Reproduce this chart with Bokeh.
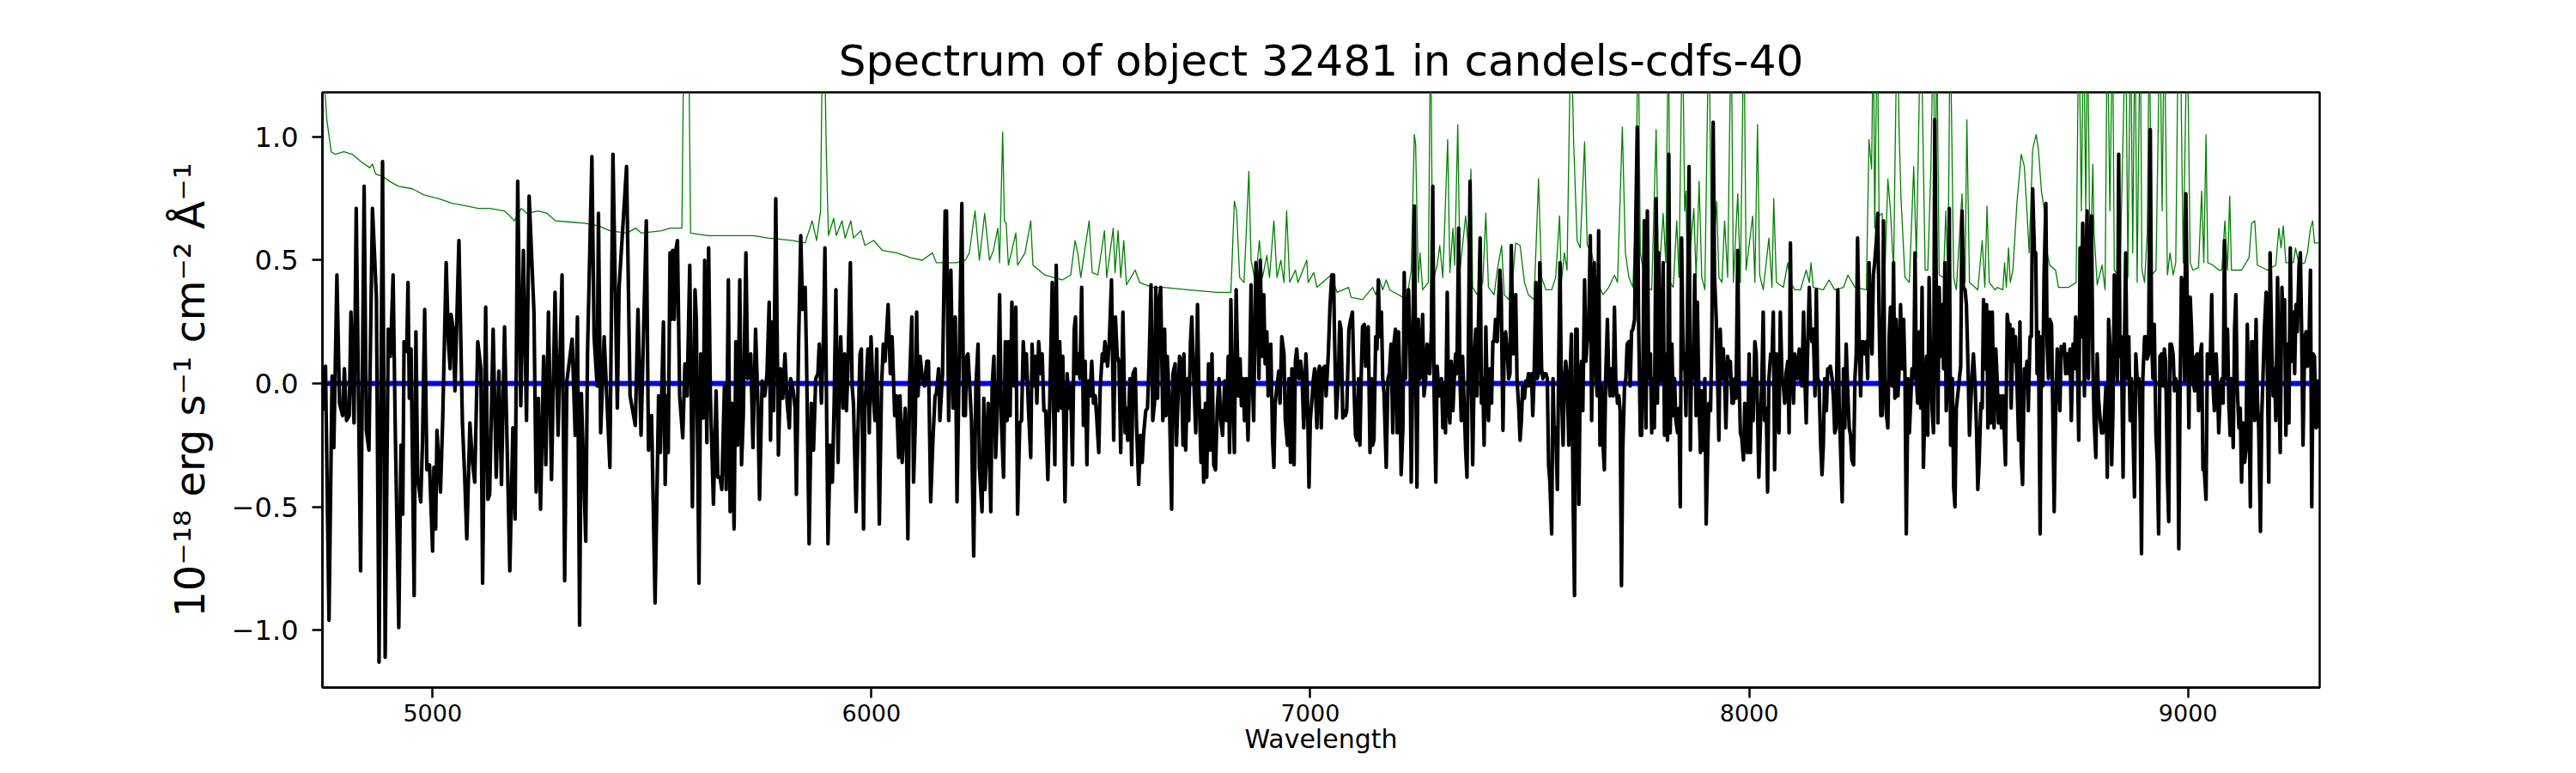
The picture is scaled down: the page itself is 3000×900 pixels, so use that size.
from bokeh.plotting import figure
from bokeh.models import Range1d, FixedTicker
from bokeh.embed import file_html
from bokeh.resources import INLINE

# ---------------- data ----------------
title_text = "Spectrum of object 32481 in candels-cdfs-40"
x_label = "Wavelength"
y_label = "10\u207b\u00b9\u2078 erg s\u207b\u00b9 cm\u207b\u00b2 \u00c5\u207b\u00b9"

x_ticks = [5000, 6000, 7000, 8000, 9000]
x_tick_labels = ["5000", "6000", "7000", "8000", "9000"]
y_ticks = [-1.0, -0.5, 0.0, 0.5, 1.0]
y_tick_labels = ["\u22121.0", "\u22120.5", "0.0", "0.5", "1.0"]

x_limits = [4749, 9300]
y_limits = [-1.233, 1.181]

# observed flux (black), in six wavelength chunks
wave_a = [4749,4756,4764,4771,4775,4782,4788,4795,4799,4804,
          4810,4814,4821,4826,4836,4844,4849,4855,4863,4872,
          4878,4886,4892,4899,4904,4910,4915,4923,4928,4932,
          4935,4941,4944,4947,4951,4958,4962,4966,4973,4977,
          4982,4987,4993,5000,5003,5007,5010,5018,5023,5031,
          5036,5040,5042,5047,5051,5060,5068,5073,5078,5085,
          5091,5096,5103,5110,5114,5121,5126,5130,5138,5145,
          5151,5157,5164,5176,5183,5188,5194,5201,5207,5214,
          5220,5231,5236,5241,5246,5253,5258,5264,5271,5279,
          5286,5295,5301,5306,5318,5325,5330,5335,5339,5349,
          5353,5363,5368,5375,5378,5383,5391,5404,5411,5421,
          5425,5442,5450,5462,5468,5475,5487,5492,5499,5507,
          5515]
flux_a = [-0.11,0.07,-0.96,0.03,-0.26,0.44,-0.08,-0.13,0.06,-0.15,
          -0.13,0.29,-0.16,0.71,-0.76,0.80,-0.19,-0.27,0.71,0.35,
          -1.13,0.90,-1.11,0.22,0.11,0.44,-0.19,-0.99,-0.25,-0.53,
          0.17,0.13,0.41,-0.06,0.14,-0.86,0.21,-0.38,-0.48,-0.24,
          0.30,-0.35,-0.33,-0.68,-0.34,-0.59,-0.19,-0.44,-0.15,0.49,
          0.17,0.06,0.28,0.22,-0.03,0.58,-0.16,-0.37,-0.63,-0.16,
          -0.32,-0.40,0.17,0.06,-0.81,0.31,-0.47,-0.45,0.22,-0.38,
          0.05,-0.41,0.23,-0.76,-0.18,-0.55,0.82,-0.09,0.54,-0.15,
          0.76,0.29,-0.44,-0.06,-0.51,0.11,-0.33,0.29,-0.39,0.37,
          -0.21,0.44,-0.80,0.01,0.18,-0.21,0.27,-0.98,-0.04,-0.64,
          0.12,0.92,0.19,-0.01,0.69,-0.20,0.19,-0.34,0.93,-0.10,
          0.39,0.88,-0.05,-0.17,0.30,-0.21,0.66,-0.27,-0.13,-0.89,
          -0.05]

wave_b = [5519,5526,5530,5534,5537,5541,5544,5547,5551,5554,
          5558,5563,5570,5575,5580,5586,5592,5598,5601,5604,
          5607,5611,5617,5620,5625,5629,5633,5640,5646,5650,
          5655,5659,5665,5669,5674,5678,5682,5687,5691,5695,
          5700,5704,5708,5714,5718,5725,5730,5736,5741,5745,
          5751,5757,5762,5767,5770,5774,5777,5782,5788,5793,
          5798,5803,5808,5813,5816,5822,5826,5829,5834,5839,
          5843,5849,5852,5858,5863,5868,5873,5878,5881,5886,
          5891,5894,5901,5906,5911,5915,5919,5924,5927,5930,
          5935,5939,5943,5946,5952,5956,5959,5965,5969,5974,
          5977,5982,5985,5992,5995,5999,6004,6008,6012,6018,
          6023,6027,6031,6034,6038,6043,6047,6053,6057,6062,
          6065,6070,6077,6080,6083,6087,6092,6096,6100,6103,
          6106,6111,6116,6121,6126,6130,6135,6140,6145,6148,
          6153,6156,6162,6168,6171,6176,6181,6186,6191,6195,
          6201,6206,6210,6214,6217,6220,6223,6228,6233,6238,
          6243,6246,6252,6256,6259,6266,6272]
flux_b = [-0.28,0.25,-0.41,-0.05,-0.28,0.53,0.26,0.54,0.26,0.54,
          0.58,-0.05,-0.22,0.08,-0.05,0.48,-0.50,0.38,0.26,-0.28,
          -0.81,0.12,-0.14,0.50,-0.24,0.55,-0.05,-0.49,-0.03,-0.38,
          -0.38,-0.43,-0.01,-0.43,0.42,-0.52,-0.08,-0.59,0.17,-0.25,
          0.42,-0.33,-0.13,0.53,0.02,0.12,-0.26,0.22,-0.07,-0.47,
          0.01,-0.05,0.04,0.33,-0.23,0.25,-0.11,0.75,-0.29,0.06,
          -0.06,0.12,-0.08,-0.18,0.02,-0.03,-0.10,-0.45,0.16,0.60,
          0.30,0.39,0.11,-0.65,-0.08,-0.27,0.02,0.04,0.16,-0.08,
          0.21,0.55,-0.65,-0.25,-0.40,-0.08,0.38,-0.32,0.02,0.19,
          -0.10,0.12,-0.11,0.04,0.49,-0.01,-0.08,-0.52,-0.21,0.12,
          0.14,-0.59,-0.10,0.14,-0.20,0.19,-0.05,-0.15,0.14,-0.57,
          -0.01,0.16,0.09,0.19,0.32,0.04,0.19,-0.13,-0.05,-0.30,
          -0.05,-0.32,-0.10,-0.27,-0.63,0.01,0.27,-0.40,-0.16,0.29,
          -0.05,0.11,0.02,-0.01,0.09,0.09,-0.48,-0.23,-0.05,-0.04,
          0.06,-0.15,0.04,0.70,0.70,-0.15,0.46,-0.10,0.27,-0.48,
          0.19,0.73,-0.13,-0.13,0.11,0.12,0.02,-0.15,-0.70,-0.01,
          0.16,-0.34,-0.52,-0.06,-0.43,-0.08,-0.52]

wave_c = [6275,6279,6283,6288,6292,6296,6301,6305,6309,6312,
          6316,6320,6325,6329,6333,6338,6342,6346,6350,6353,
          6358,6363,6366,6369,6373,6377,6381,6386,6389,6393,
          6397,6402,6406,6412,6415,6418,6421,6425,6429,6433,
          6436,6441,6446,6451,6454,6458,6462,6465,6467,6471,
          6475,6479,6483,6487,6491,6494,6498,6502,6506,6510,
          6513,6518,6521,6526,6529,6532,6538,6542,6547,6552,
          6556,6560,6564,6568,6573,6578,6581,6584,6589,6593,
          6596,6601,6604,6609,6613,6617,6620,6625,6629,6633,
          6637,6641,6645,6648,6652,6655,6659,6664,6668,6671,
          6674,6679,6684,6687,6692,6695,6699,6702,6706,6710,
          6712,6716,6720,6723,6727,6730,6734,6739,6743,6746,
          6751,6754,6757,6761,6764,6768,6772,6776,6780,6784,
          6788,6792,6796,6800,6805,6809,6813,6816,6819,6822,
          6827,6831,6836,6840,6843,6847,6850,6854,6858,6862,
          6865,6868,6871,6876,6879,6883,6886,6890,6894,6897,
          6901,6904,6908,6910,6914,6917,6920,6924,6928,6931,
          6935,6940,6943,6948,6951,6955,6958,6963,6966,6969,
          6974,6978,6981,6985,6990,6993,6997,7000,7004,7007,
          7010,7015,7018,7021,7025,7028,7033,7036,7041,7045]
flux_c = [-0.01,0.11,-0.30,-0.05,0.36,-0.15,-0.38,0.17,-0.15,0.17,
          -0.13,0.33,-0.01,0.31,-0.53,-0.16,-0.15,0.17,0.02,0.12,
          -0.11,-0.30,0.16,-0.01,0.11,-0.08,0.17,0.04,0.12,-0.11,
          -0.11,-0.39,-0.10,0.41,-0.10,-0.33,0.48,-0.11,0.17,-0.10,
          0.11,-0.48,0.04,-0.10,-0.01,-0.33,0.22,0.27,0.04,0.12,
          0.02,0.39,-0.17,0.09,-0.33,0.01,-0.05,0.09,-0.08,-0.05,
          -0.13,-0.28,-0.03,0.12,0.09,0.17,0.07,0.17,0.42,-0.23,
          0.27,0.11,0.09,-0.28,0.29,-0.20,-0.10,-0.23,0.02,-0.33,
          0.04,0.06,-0.17,-0.41,-0.21,-0.32,-0.21,-0.11,-0.10,0.11,
          0.40,-0.15,-0.08,0.39,-0.06,0.32,0.39,-0.15,0.22,-0.13,
          0.11,-0.08,-0.51,0.04,0.08,-0.25,-0.04,0.11,0.09,-0.25,
          0.12,-0.27,0.02,-0.15,0.17,0.27,0.04,-0.20,0.32,-0.01,
          -0.32,-0.11,-0.40,-0.08,-0.38,0.08,-0.27,0.12,-0.33,-0.35,
          -0.10,0.02,-0.15,-0.21,0.01,-0.15,0.11,-0.28,0.34,0.02,
          -0.28,0.38,-0.05,0.10,-0.09,0.02,-0.15,0.02,-0.23,0.04,
          0.40,0.02,-0.15,0.49,0.39,0.02,0.50,0.11,0.36,0.08,
          0.21,-0.05,-0.02,0.16,-0.23,-0.34,-0.08,-0.01,0.05,-0.08,
          0.19,0.12,-0.15,-0.25,0.02,-0.32,0.06,-0.33,0.09,0.14,
          0.02,0.09,0.04,-0.18,0.12,-0.01,-0.42,-0.15,-0.06,0.02,
          0.06,-0.18,0.04,0.07,-0.18,0.06,0.07,-0.05,0.12,0.32]

wave_d = [7049,7053,7055,7059,7064,7067,7070,7074,7077,7080,
          7083,7088,7092,7096,7100,7103,7106,7110,7113,7116,
          7119,7123,7126,7129,7132,7136,7139,7142,7145,7149,
          7152,7155,7158,7162,7165,7168,7173,7177,7180,7184,
          7188,7191,7194,7198,7201,7204,7207,7211,7214,7217,
          7220,7224,7227,7230,7233,7237,7240,7243,7246,7250,
          7253,7256,7259,7263,7266,7269,7272,7276,7279,7282,
          7286,7289,7292,7295,7299,7302,7305,7308,7312,7315,
          7318,7321,7325,7328,7331,7334,7338,7341,7344,7347,
          7351,7354,7357,7360,7364,7367,7370,7374,7377,7380,
          7383,7387,7390,7393,7396,7400,7403,7406,7409,7413,
          7416,7419,7422,7426,7429,7432,7435,7439,7442,7445,
          7449,7452,7455,7458,7462,7465,7468,7471,7475,7478,
          7481,7484,7488,7491,7494,7497,7501,7504,7507,7510,
          7514,7517,7520,7523,7527,7530,7533,7537,7540,7543,
          7546,7550,7553,7556,7559,7563,7566,7569,7572,7576,
          7579,7582,7585,7589,7592,7595,7599,7602,7605,7608,
          7612,7615,7618,7621,7625,7628,7631,7634,7638,7641,
          7644,7647,7651,7654,7657,7660,7664,7667,7670,7673,
          7677,7680,7683,7686,7690,7693,7696,7700,7703,7706,
          7709,7712,7716,7719,7722,7726,7729,7732,7735,7739,
          7742,7745,7748,7752,7755,7758,7761,7765,7768,7771,
          7775,7778,7781,7784,7788,7791,7794,7797,7800,7804,
          7807]
flux_d = [0.44,0.44,0.21,-0.14,0.02,0.25,0.22,-0.14,-0.11,-0.13,
          -0.11,0.22,0.26,0.29,-0.04,-0.21,-0.23,0.02,-0.25,0.03,
          0.23,0.24,0.07,0.21,0.23,-0.28,0.02,-0.25,-0.23,0.19,
          0.14,0.42,0.19,0.29,0.02,-0.04,-0.34,0.02,0.04,0.16,
          -0.20,0.17,0.22,-0.20,0.21,0.02,-0.37,-0.18,0.45,0.02,
          0.28,0.38,0.16,-0.40,0.02,0.72,0.11,-0.42,0.26,0.02,
          0.09,0.28,-0.05,0.02,0.16,0.12,0.04,0.22,0.80,-0.03,
          -0.40,0.07,-0.01,-0.05,0.02,-0.18,-0.01,-0.20,0.37,-0.10,
          -0.16,0.09,-0.11,0.02,0.12,0.04,0.63,0.02,-0.15,0.11,
          -0.11,-0.27,-0.38,0.12,0.82,0.02,-0.33,0.12,0.22,-0.05,
          0.23,0.59,-0.08,0.02,-0.25,0.23,-0.05,-0.15,0.06,-0.08,
          0.17,0.17,0.26,0.17,0.33,0.46,0.36,-0.19,0.17,0.21,
          0.12,0.02,0.04,0.56,0.12,0.26,0.36,0.02,-0.10,-0.23,
          -0.15,-0.01,-0.06,0.01,-0.01,0.04,-0.01,0.04,-0.13,0.03,
          0.41,0.02,0.04,0.49,0.06,0.02,0.04,0.04,0.02,-0.33,
          -0.40,-0.61,0.02,-0.23,-0.18,-0.43,0.08,0.49,-0.01,-0.25,
          0.02,0.09,0.03,-0.25,0.04,0.20,-0.49,-0.86,0.22,0.22,
          -0.49,0.02,0.09,-0.11,0.42,0.09,0.17,0.21,0.60,-0.15,
          0.21,0.49,0.02,-0.05,0.62,-0.25,-0.01,-0.25,-0.35,0.02,
          0.26,0.02,-0.05,0.06,-0.05,0.31,0.02,-0.08,-0.05,-0.11,
          -0.82,-0.27,-0.01,0.02,0.16,0.17,-0.01,0.21,0.22,0.26,
          0.70,1.04,0.26,-0.21,-0.21,0.06,0.66,-0.18,0.70,0.02,
          0.12,-0.20,0.02,-0.18,0.75,-0.08,0.53,0.01,0.02,0.49,
          -0.21]

wave_e = [7811,7814,7817,7820,7824,7827,7830,7833,7837,7840,
          7843,7846,7850,7853,7856,7859,7863,7866,7869,7872,
          7876,7879,7882,7886,7889,7892,7895,7899,7902,7905,
          7908,7912,7915,7918,7921,7925,7928,7931,7934,7938,
          7941,7944,7947,7951,7954,7957,7961,7964,7967,7970,
          7974,7977,7980,7983,7987,7990,7993,7996,8000,8003,
          8006,8009,8013,8016,8019,8022,8026,8029,8032,8035,
          8039,8042,8045,8049,8052,8055,8058,8062,8065,8068,
          8071,8075,8078,8081,8084,8088,8091,8094,8097,8101,
          8104,8107,8110,8114,8117,8120,8124,8127,8130,8133,
          8137,8140,8143,8146,8150,8153,8156,8159,8163,8166,
          8169,8172,8176,8179,8182,8185,8189,8192,8195,8198,
          8202,8205,8208,8212,8215,8218,8221,8225,8228,8231,
          8234,8238,8241,8244,8247,8251,8254,8257,8260,8264,
          8267,8270,8273,8277,8280,8283,8286,8290,8293,8296,
          8300,8303,8306,8309,8313,8316,8319,8322,8326,8329,
          8332,8335,8339,8342,8345,8348,8352,8355,8358,8362,
          8365,8368,8371,8375,8378,8381,8384,8388,8391,8394,
          8397,8401,8404,8407,8410,8414,8417,8420,8423,8427,
          8430,8433,8436,8440,8443,8446,8449,8453,8456,8459,
          8463,8466,8469,8472,8475,8479,8482,8485,8488,8492,
          8495,8498,8502,8505,8508,8511,8515,8518,8521,8524,
          8528,8531,8534,8537,8541,8544,8547,8550,8554]
flux_e = [0.12,-0.23,0.93,-0.20,0.16,-0.13,0.02,-0.15,-0.20,-0.10,
          -0.50,0.59,0.06,0.12,-0.13,0.23,0.88,-0.27,0.14,0.02,
          0.44,-0.13,0.33,-0.10,-0.28,-0.03,-0.27,0.02,-0.57,-0.32,
          -0.08,-0.11,0.19,1.06,0.44,0.26,0.02,-0.23,0.22,0.02,
          0.14,0.02,-0.18,0.11,0.06,0.09,-0.08,-0.08,0.02,-0.06,
          0.54,0.02,-0.20,-0.22,-0.31,-0.08,-0.23,-0.28,0.12,-0.28,
          0.02,-0.15,0.17,0.12,-0.10,-0.38,-0.15,0.02,0.29,-0.15,
          -0.10,-0.44,0.02,0.12,0.11,0.29,-0.35,0.12,-0.08,-0.20,
          0.29,0.02,-0.01,-0.08,0.04,0.09,-0.20,0.57,0.06,-0.08,
          0.12,0.06,0.02,0.14,0.02,-0.01,0.29,0.02,-0.16,0.12,
          0.39,0.21,0.17,0.22,-0.05,0.38,0.02,0.01,-0.25,-0.37,
          -0.25,0.02,-0.11,0.06,0.06,0.07,0.02,-0.06,-0.20,-0.18,
          0.38,-0.08,-0.25,-0.48,0.06,-0.18,0.16,-0.05,-0.18,-0.21,
          -0.31,-0.33,0.02,0.12,0.59,0.14,-0.05,0.17,0.17,0.12,
          0.17,0.02,0.49,0.24,0.12,0.44,0.49,0.58,0.69,0.28,
          -0.13,-0.13,0.66,-0.01,-0.13,-0.18,0.19,0.31,-0.01,0.49,
          -0.06,0.26,-0.05,0.07,0.32,0.06,0.26,0.04,-0.61,0.02,
          -0.20,-0.08,0.06,0.02,0.53,0.02,-0.08,0.21,-0.10,0.39,
          -0.34,-0.05,0.11,-0.21,0.43,0.02,-0.11,-0.20,1.07,0.26,
          -0.16,0.39,0.11,0.32,0.06,0.49,-0.11,0.04,0.71,-0.25,
          0.02,-0.42,-0.50,-0.10,-0.05,0.02,0.07,0.70,0.39,0.38,
          0.32,0.12,-0.21,-0.08,0.04,0.12,-0.01,-0.18,-0.43,-0.32,
          -0.08,-0.10,0.34,0.06,0.32,-0.18,0.29,-0.16,0.29]

wave_f = [8558,8562,8565,8568,8571,8575,8578,8581,8584,8588,
          8591,8594,8597,8601,8604,8607,8610,8614,8617,8620,
          8623,8627,8630,8633,8636,8640,8643,8646,8650,8653,
          8656,8659,8663,8666,8669,8672,8676,8679,8682,8685,
          8689,8692,8695,8698,8702,8705,8708,8711,8715,8718,
          8721,8725,8728,8731,8734,8738,8741,8744,8747,8751,
          8754,8757,8760,8764,8767,8770,8773,8777,8780,8783,
          8786,8790,8793,8796,8800,8803,8806,8809,8813,8816,
          8819,8822,8826,8829,8832,8835,8839,8842,8845,8848,
          8852,8855,8858,8861,8865,8868,8871,8874,8878,8881,
          8884,8888,8891,8894,8897,8901,8904,8907,8910,8914,
          8917,8920,8923,8927,8930,8933,8936,8940,8943,8946,
          8949,8953,8956,8959,8962,8966,8969,8972,8976,8979,
          8982,8985,8989,8992,8995,8998,9002,9005,9008,9011,
          9015,9018,9021,9024,9028,9031,9034,9037,9041,9044,
          9047,9050,9054,9057,9060,9064,9067,9070,9073,9077,
          9080,9083,9086,9090,9093,9096,9099,9103,9106,9109,
          9112,9116,9119,9122,9125,9129,9132,9135,9139,9142,
          9145,9148,9152,9155,9158,9161,9165,9168,9171,9174,
          9178,9181,9184,9187,9191,9194,9197,9200,9204,9207,
          9210,9214,9217,9220,9223,9227,9230,9233,9236,9240,
          9243,9246,9249,9253,9256,9259,9262,9266,9269,9272,
          9275,9279,9282,9285,9288,9292,9295,9298]
flux_f = [-0.18,0.14,0.02,-0.16,-0.05,-0.18,-0.05,-0.18,-0.33,0.28,
          0.23,0.24,-0.10,0.22,0.09,0.19,0.02,-0.23,0.25,-0.31,
          -0.41,0.06,0.02,0.09,-0.11,0.19,0.19,0.79,0.53,0.53,
          0.04,0.21,-0.61,0.19,-0.01,0.44,0.73,0.16,0.02,0.26,
          0.24,-0.13,-0.52,-0.15,0.14,0.06,-0.11,0.15,0.12,0.16,
          0.04,0.12,0.04,0.14,-0.15,0.16,0.06,0.27,0.17,-0.23,
          0.55,0.19,0.65,-0.05,0.46,0.70,0.02,0.60,0.68,0.11,
          -0.15,-0.30,0.12,-0.06,-0.15,-0.20,-0.20,-0.15,-0.01,-0.38,
          0.26,0.16,-0.33,-0.11,0.44,0.14,0.01,0.93,0.11,0.19,
          -0.38,0.16,0.53,0.02,0.19,-0.15,0.02,-0.15,-0.46,0.12,
          0.02,0.02,-0.15,-0.69,0.02,0.19,0.19,0.10,0.12,1.03,
          0.19,0.02,0.24,-0.21,-0.32,-0.61,0.11,0.12,-0.01,0.14,
          0.09,-0.38,-0.56,0.16,0.16,0.12,-0.03,0.02,-0.01,-0.67,
          -0.01,0.43,0.36,0.01,0.77,0.36,-0.18,0.35,0.22,0.02,
          -0.03,0.11,0.12,-0.11,0.12,0.16,-0.35,-0.35,-0.47,0.12,
          0.09,0.04,0.36,-0.01,-0.11,0.12,-0.01,-0.20,-0.05,0.02,
          -0.08,0.58,0.02,0.22,-0.08,-0.21,0.02,-0.26,0.22,0.36,
          -0.01,-0.18,-0.10,-0.40,-0.16,-0.32,-0.27,0.24,-0.08,-0.50,
          0.17,0.17,-0.15,0.26,-0.06,-0.18,-0.60,-0.13,0.04,0.22,
          0.37,0.02,-0.40,0.53,0.14,-0.05,0.06,-0.15,0.43,0.02,
          -0.28,0.39,0.22,0.34,-0.21,0.16,-0.16,0.55,0.09,0.29,
          0.04,0.32,0.21,0.48,0.53,0.19,-0.25,0.19,0.21,0.07,
          0.12,0.46,-0.50,0.12,0.11,-0.18,0.01,-0.18]

# noise / sky spectrum (green)
err_wave_a = [4749,4759,4769,4778,4798,4817,4837,4857,4863,4870,4886,4902,4922,4954,4980,5013,5046,5078,
              5104,5130,5163,5176,5186,5202,5215,5241,5261,5280,5313,5346,5378,5404,5443,5463,5476,5522]
err_a = [1.35,1.07,0.94,0.93,0.94,0.93,0.90,0.875,0.89,0.85,0.84,0.82,0.80,0.79,0.765,0.75,0.73,0.72,
         0.71,0.71,0.70,0.68,0.66,0.71,0.69,0.70,0.69,0.66,0.655,0.65,0.64,0.62,0.61,0.63,0.61,0.62]
err_wave_b = [5542,5568,5573,5578,5583,5588,5627,5673,5731,5764,5822,5849,5865,5875,5884,5889,5893,5897,5902,5914,5920,
              5933,5940,5953,5959,5976,5985,6005,6025,6057,6090,6116,6139,6148,6168,6194,6214,6223,6236,6246,6258,6269]
err_b = [0.63,0.63,1.5,1.6,1.5,0.61,0.60,0.60,0.60,0.59,0.58,0.57,0.66,0.58,0.70,1.5,1.4,0.95,0.60,0.67,0.60,
         0.66,0.59,0.66,0.59,0.62,0.56,0.58,0.54,0.53,0.51,0.50,0.53,0.49,0.49,0.49,0.50,0.53,0.70,0.50,0.69,0.50]
err_wave_c = [6278,6288,6292,6299,6303,6307,6312,6320,6329,6333,6350,6363,6368,6395,6435,6454,6464,6470,6477,6496,6503,
              6516,6531,6536,6551,6555,6562,6568,6575,6581,6601,6611,6640,6666,6721,6787,6819,6827,6832,6839,6849,
              6860,6865,6875,6884,6891,6901,6907,6917,6924,6933,6940,6946,6953,6966,6972,6992,6995,7008,7015,7041]
err_c = [0.54,0.63,0.49,1.02,0.66,0.65,0.48,0.54,0.61,0.48,0.53,0.66,0.48,0.44,0.42,0.44,0.58,0.53,0.43,0.66,0.45,
         0.44,0.62,0.43,0.63,0.45,0.62,0.43,0.58,0.40,0.46,0.41,0.39,0.39,0.38,0.37,0.37,0.74,0.70,0.43,0.41,
         0.86,0.50,0.41,0.58,0.43,0.52,0.43,0.66,0.43,0.50,0.41,0.70,0.41,0.46,0.41,0.50,0.41,0.45,0.39,0.43]
err_wave_d = [7047,7061,7087,7093,7119,7142,7149,7158,7165,7173,7181,7211,7224,7230,7237,7240,7246,7250,7256,7269,
              7274,7279,7289,7295,7302,7313,7318,7325,7329,7336,7341,7354,7361,7366,7370,7380,7393,7400,7406,7419,
              7426,7436,7442,7452,7462,7468,7478,7488,7497,7510,7520,7527,7537,7550,7559,7568,7572,7579,7585,7594,
              7600,7608,7615,7625,7631,7641,7654,7667,7680,7693,7700,7711,7718,7726,7735,7742,7747,7752,7765,7778,
              7788,7794,7804]
err_d = [0.44,0.37,0.39,0.35,0.34,0.39,0.36,0.42,0.38,0.42,0.38,0.35,0.39,0.46,1.01,0.97,0.41,0.53,0.38,0.41,
         1.5,0.41,0.48,0.56,0.43,0.99,0.45,0.63,0.48,1.05,0.46,0.68,0.53,0.87,0.39,0.36,0.41,0.69,0.39,0.36,
         0.46,0.56,0.36,0.34,0.44,0.57,0.56,0.41,0.36,0.34,0.83,0.43,0.38,0.38,0.43,0.68,0.41,0.53,0.46,1.5,
         0.98,0.58,0.55,0.98,0.56,0.53,0.41,0.36,0.39,0.44,0.41,1.04,0.53,0.43,0.39,0.73,1.5,0.53,0.39,0.38,
         1.03,0.41,0.69]
err_wave_e = [7810,7816,7820,7827,7835,7840,7848,7853,7856,7859,7864,7869,7874,7879,7886,7892,7899,7908,7915,7926,
              7931,7938,7944,7951,7959,7964,7974,7980,7988,7993,8008,8013,8019,8024,8032,8045,8052,8056,8062,8078,
              8088,8094,8104,8117,8130,8137,8141,8146,8169,8182,8195,8215,8225,8241,8267,8273,8279,8283,8286,8292,
              8296,8303,8309,8316,8322,8329,8337,8342,8346,8355,8365,8375,8381,8391,8396,8401,8407,8414,8420,8424,
              8427,8433,8443,8448,8453,8458,8466,8472,8485,8492,8496,8502,8521,8531,8537,8542,8547,8560]
err_e = [0.49,1.5,0.41,0.39,0.66,0.43,1.5,0.70,0.78,0.43,0.51,0.61,0.71,0.43,0.82,0.43,0.38,1.5,0.41,0.74,
         0.43,0.41,0.66,0.43,1.5,0.41,0.77,0.41,1.5,0.46,0.68,0.41,1.05,0.44,0.38,0.59,0.39,0.75,0.41,0.39,
         0.49,0.41,0.38,0.38,0.46,0.41,0.49,0.39,0.38,0.42,0.38,0.39,0.44,0.39,0.38,0.99,0.87,1.5,0.63,1.5,
         0.68,0.69,0.43,0.83,0.70,0.46,1.5,1.00,0.75,0.43,0.41,0.88,0.51,1.5,1.00,0.46,0.46,0.87,1.5,0.45,
         1.5,0.44,0.43,0.70,0.41,1.5,0.43,0.38,0.77,0.41,1.07,0.41,0.38,0.58,0.39,0.72,0.41,0.38]
err_wave_f = [8565,8578,8582,8586,8591,8595,8601,8610,8620,8627,8633,8638,8646,8654,8659,8666,8672,8679,8685,8698,
              8705,8728,8745,8751,8757,8762,8767,8771,8777,8783,8786,8793,8804,8811,8816,8822,8828,8832,8845,8858,
              8863,8869,8874,8879,8884,8891,8895,8901,8907,8912,8917,8927,8936,8941,8946,8953,8959,8966,8972,8978,
              8982,8989,8998,9005,9011,9024,9031,9036,9041,9045,9057,9070,9077,9084,9090,9095,9099,9122,9139,9145,
              9152,9158,9181,9200,9207,9212,9217,9223,9240,9245,9253,9266,9272,9279,9284,9288,9298]
err_f = [0.39,0.38,0.49,0.39,0.55,0.41,0.46,0.73,0.93,0.88,0.70,0.53,0.95,1.01,0.95,0.78,0.71,0.53,0.48,0.46,
         0.39,0.39,0.41,1.5,0.70,1.5,0.70,1.5,0.41,0.89,0.61,0.40,0.48,0.38,1.5,0.70,1.5,0.46,0.43,1.5,
         0.43,1.5,0.53,1.5,0.41,1.5,0.46,0.41,0.61,1.5,0.44,0.46,1.5,0.70,1.5,0.44,0.53,0.44,0.49,1.5,
         1.5,0.49,1.5,0.49,0.46,0.47,0.78,0.49,1.01,0.49,0.48,0.46,0.46,0.66,0.46,0.76,0.46,0.46,0.51,0.65,
         0.66,0.48,0.46,0.48,0.63,0.55,0.64,0.49,0.49,0.55,0.48,0.49,0.53,0.63,0.66,0.57,0.57]

# model (blue)
model_wave = [4749, 9298]
model_flux = [0.0, 0.0]

# ---------------- assemble ----------------
flux_wave = wave_a + wave_b + wave_c + wave_d + wave_e + wave_f
flux_vals = flux_a + flux_b + flux_c + flux_d + flux_e + flux_f
err_wave = err_wave_a + err_wave_b + err_wave_c + err_wave_d + err_wave_e + err_wave_f
err_vals = err_a + err_b + err_c + err_d + err_e + err_f

FONT = "DejaVu Sans"

p = figure(frame_width=2326, frame_height=693,
           min_border_left=375, min_border_right=283,
           min_border_top=107, min_border_bottom=84,
           x_range=Range1d(*x_limits), y_range=Range1d(*y_limits),
           output_backend="svg", toolbar_location=None,
           background_fill_color="white", border_fill_color="white")

p.title.text = title_text
p.title.align = "center"
p.title.vertical_align = "bottom"
p.title.text_font = FONT
p.title.text_font_size = "50px"
p.title.text_font_style = "normal"
p.title.text_color = "black"
p.title.standoff = 16

p.line(err_wave, err_vals, line_color="#008000", line_width=1.3, line_join="round")
p.line(model_wave, model_flux, line_color="#0000ff", line_width=6)
p.line(flux_wave, flux_vals, line_color="black", line_width=4.2, line_join="round")

p.grid.visible = False
p.outline_line_color = "black"
p.outline_line_width = 2.5
p.outline_line_alpha = 1.0

p.xaxis.ticker = FixedTicker(ticks=x_ticks)
p.xaxis.major_label_overrides = dict(zip(x_ticks, x_tick_labels))
p.yaxis.ticker = FixedTicker(ticks=y_ticks)
p.yaxis.major_label_overrides = dict(zip(y_ticks, y_tick_labels))

for ax in (p.xaxis[0], p.yaxis[0]):
    ax.axis_line_color = "black"
    ax.axis_line_width = 2.5
    ax.major_tick_line_color = "black"
    ax.major_tick_line_width = 2.5
    ax.major_tick_in = 0
    ax.major_tick_out = 12
    ax.minor_tick_line_color = None
    ax.major_label_text_font = FONT
    ax.major_label_text_color = "black"
    ax.axis_label_text_font = FONT
    ax.axis_label_text_font_style = "normal"
    ax.axis_label_text_color = "black"

p.xaxis.major_label_text_font_size = "27px"
p.xaxis.major_label_standoff = 7
p.xaxis.axis_label = x_label
p.xaxis.axis_label_text_font_size = "30px"
p.xaxis.axis_label_standoff = 0

p.yaxis.major_label_text_font_size = "32px"
p.yaxis.major_label_standoff = 16
p.yaxis.axis_label = y_label
p.yaxis.axis_label_text_font_size = "48px"
p.yaxis.axis_label_standoff = 18

open("out.html", "w").write(file_html(p, INLINE))
